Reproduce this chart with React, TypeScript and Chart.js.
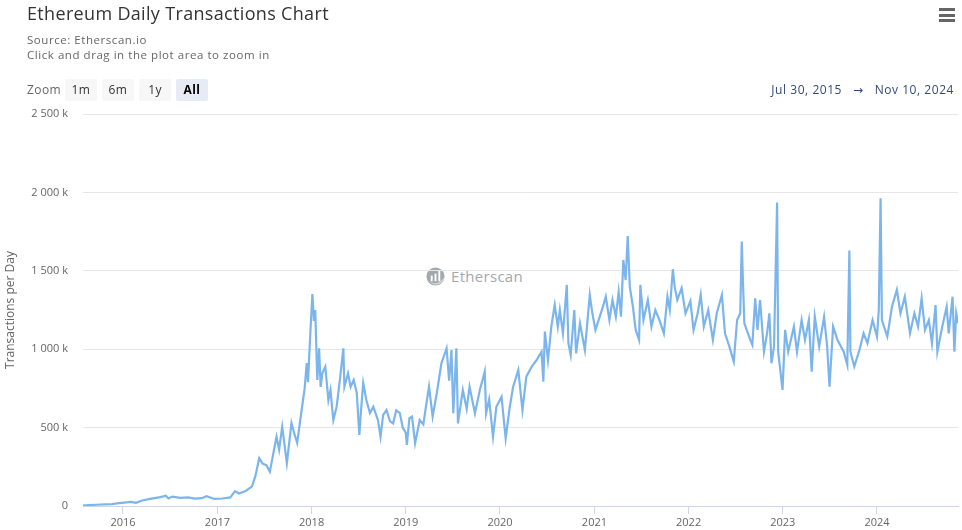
import React, { useEffect, useRef } from "react";
import { Chart, registerables } from "chart.js";

Chart.register(...registerables);

const TITLE = "Ethereum Daily Transactions Chart";
const SUBTITLE_1 = "Source: Etherscan.io";
const SUBTITLE_2 = "Click and drag in the plot area to zoom in";
const ZOOM_BUTTONS = ["1m", "6m", "1y", "All"];
const RANGE_FROM = "Jul 30, 2015";
const RANGE_TO = "Nov 10, 2024";
const Y_TITLE = "Transactions per Day";
const X_START = "2015-07-30";
const X_END = "2024-11-10";
const YEAR_TICKS = [2016, 2017, 2018, 2019, 2020, 2021, 2022, 2023, 2024];
const Y_MAX_K = 2500;
const Y_STEP_K = 500;

const dates: string[] = [
  "2015-07-30", "2015-08-20", "2015-09-20", "2015-10-20", "2015-11-20", "2015-12-15",
  "2016-01-05", "2016-02-01", "2016-02-20", "2016-03-15", "2016-04-15", "2016-05-25", "2016-06-15", "2016-06-25",
  "2016-07-10", "2016-08-10", "2016-09-10", "2016-10-05", "2016-11-01", "2016-11-20", "2016-12-20",
  "2017-01-20", "2017-02-20", "2017-03-10", "2017-03-25", "2017-04-20", "2017-05-15", "2017-05-28", "2017-06-12",
  "2017-06-25", "2017-07-10", "2017-07-23", "2017-08-05", "2017-08-18", "2017-08-28", "2017-09-09", "2017-09-27",
  "2017-10-15", "2017-10-28", "2017-11-06", "2017-11-25", "2017-12-05", "2017-12-13", "2017-12-18", "2017-12-27",
  "2018-01-04", "2018-01-10", "2018-01-15", "2018-01-23", "2018-01-30", "2018-02-05", "2018-02-12", "2018-02-23",
  "2018-03-07", "2018-03-15", "2018-03-26", "2018-04-08", "2018-04-22", "2018-05-04", "2018-05-08", "2018-05-22",
  "2018-06-01", "2018-06-13", "2018-06-25", "2018-07-05", "2018-07-12", "2018-07-20", "2018-08-01", "2018-08-15",
  "2018-08-28", "2018-09-15", "2018-09-25", "2018-10-05", "2018-10-18", "2018-11-01", "2018-11-13", "2018-11-25",
  "2018-12-09", "2018-12-20",
  "2019-01-01", "2019-01-05", "2019-01-15", "2019-01-25", "2019-02-06", "2019-02-24", "2019-03-10", "2019-03-20",
  "2019-04-01", "2019-04-15", "2019-05-01", "2019-05-19", "2019-06-08", "2019-06-18", "2019-06-27", "2019-07-04",
  "2019-07-16", "2019-07-22", "2019-08-10", "2019-08-25", "2019-09-05", "2019-09-26", "2019-10-15", "2019-11-03",
  "2019-11-08", "2019-11-20", "2019-12-05", "2019-12-18",
  "2020-01-07", "2020-01-23", "2020-02-08", "2020-02-21", "2020-03-12", "2020-03-28", "2020-04-12", "2020-05-03",
  "2020-05-22", "2020-06-10", "2020-06-17", "2020-06-23", "2020-07-05", "2020-07-18", "2020-07-31", "2020-08-12",
  "2020-08-20", "2020-09-01", "2020-09-16", "2020-09-22", "2020-10-01", "2020-10-15", "2020-10-22", "2020-11-06",
  "2020-11-25", "2020-12-14", "2020-12-24",
  "2021-01-05", "2021-02-03", "2021-02-14", "2021-02-28", "2021-03-12", "2021-03-25", "2021-04-05", "2021-04-14",
  "2021-04-23", "2021-05-02", "2021-05-10", "2021-05-18", "2021-05-30", "2021-06-10", "2021-06-23", "2021-06-28",
  "2021-07-10", "2021-07-27", "2021-08-10", "2021-08-25", "2021-09-10", "2021-09-27", "2021-10-11", "2021-10-20",
  "2021-11-01", "2021-11-08", "2021-11-18", "2021-12-05", "2021-12-20",
  "2022-01-08", "2022-01-20", "2022-02-05", "2022-02-17", "2022-03-01", "2022-03-18", "2022-04-05", "2022-04-20",
  "2022-05-10", "2022-05-22", "2022-06-08", "2022-06-25", "2022-07-08", "2022-07-20", "2022-07-26", "2022-07-30",
  "2022-08-05", "2022-08-28", "2022-09-05", "2022-09-16", "2022-09-25", "2022-10-05", "2022-10-20", "2022-11-01",
  "2022-11-10", "2022-11-18", "2022-11-28", "2022-12-10", "2022-12-14", "2022-12-31",
  "2023-01-10", "2023-01-22", "2023-02-13", "2023-02-25", "2023-03-15", "2023-03-28", "2023-04-12", "2023-04-23",
  "2023-05-05", "2023-05-22", "2023-06-10", "2023-06-22", "2023-07-01", "2023-07-15", "2023-08-01", "2023-08-25",
  "2023-09-08", "2023-09-16", "2023-09-20", "2023-10-05", "2023-10-25", "2023-11-10", "2023-11-25", "2023-12-15",
  "2024-01-01", "2024-01-08", "2024-01-15", "2024-01-20", "2024-02-10", "2024-02-28", "2024-03-18", "2024-04-01",
  "2024-04-18", "2024-05-08", "2024-05-25", "2024-06-08", "2024-06-22", "2024-07-05", "2024-07-20", "2024-08-01",
  "2024-08-15", "2024-08-22", "2024-09-10", "2024-09-27", "2024-10-05", "2024-10-20", "2024-10-27", "2024-11-03",
  "2024-11-10",
];

// Daily transactions, in thousands
const txK: number[] = [
  3, 5, 8, 10, 12, 18,
  22, 26, 20, 35, 45, 57, 66, 48,
  60, 52, 55, 47, 50, 62, 45,
  48, 55, 95, 80, 95, 125, 190, 305,
  270, 260, 219, 330, 442, 360, 506, 274,
  529, 450, 402, 633, 750, 912, 790, 1103,
  1352, 1180, 1250, 804, 1006, 760, 850, 889,
  676, 740, 548, 633, 825, 1006, 761, 846,
  760, 804, 719, 453, 620, 784, 676, 593,
  633, 548, 442, 580, 612, 540, 527, 610,
  593, 500,
  466, 389, 560, 570, 400, 548, 520, 633,
  761, 570, 719, 910, 1006, 800, 995, 591,
  1006, 527, 740, 620, 761, 591, 740, 857,
  591, 680, 442, 633,
  697, 432, 633, 761, 867, 612, 825, 889,
  931, 984, 793, 1112, 930, 1144, 1282, 1144,
  1250, 1101, 1410, 1038, 963, 1250, 974, 1165,
  995, 1346, 1229,
  1123, 1271, 1335, 1186, 1314, 1207, 1367, 1207,
  1569, 1441, 1722, 1399, 1271, 1123, 1059, 1410,
  1186, 1314, 1144, 1250, 1186, 1101, 1335, 1250,
  1510, 1399, 1314, 1389, 1229,
  1307, 1123, 1229, 1346, 1144, 1250, 1059, 1229,
  1346, 1101, 1016, 920, 1186, 1229, 1686, 1463,
  1165, 1059, 1027, 1325, 1123, 1314, 984, 1101,
  1229, 910, 1016, 1935, 984, 740,
  1123, 984, 1144, 984, 1186, 1059, 1186, 857,
  1207, 1016, 1207, 1016, 761, 1144, 1059, 984,
  899, 1630, 984, 889, 995, 1101, 1038, 1186,
  1080, 1250, 1963, 1186, 1080, 1271, 1378, 1229,
  1335, 1101, 1229, 1144, 1325, 1123, 1186, 1038,
  1282, 984, 1144, 1271, 1101, 1335, 984, 1229,
  1165,
];

const FONT = "'Open Sans', 'DejaVu Sans', sans-serif";

function formatK(v: number): string {
  if (v === 0) return "0";
  const s = String(Math.round(v)).replace(/\B(?=(\d{3})+(?!\d))/g, " ");
  return s + " k";
}

export default function App() {
  const canvasRef = useRef<HTMLCanvasElement | null>(null);

  useEffect(() => {
    const canvas = canvasRef.current;
    if (!canvas) return;
    const points = dates.map((d, i) => ({ x: Date.parse(d), y: txK[i] }));
    const chart = new Chart(canvas, {
      type: "line",
      data: {
        datasets: [
          {
            data: points,
            borderColor: "#7cb5ec",
            borderWidth: 2.2,
            pointRadius: 0,
            tension: 0,
            fill: false,
          },
        ],
      },
      options: {
        animation: false,
        responsive: false,
        maintainAspectRatio: false,
        parsing: false as any,
        layout: { padding: { left: 0, right: 4, top: 114, bottom: 0 } },
        plugins: {
          legend: { display: false },
          tooltip: { enabled: false },
          title: { display: false },
        },
        scales: {
          x: {
            type: "linear",
            min: Date.parse(X_START),
            max: Date.parse(X_END),
            afterBuildTicks: (scale: any) => {
              scale.ticks = YEAR_TICKS.map((y) => ({ value: Date.UTC(y, 0, 1) }));
            },
            afterFit: (scale: any) => {
              scale.height = 24;
            },
            ticks: {
              autoSkip: false,
              maxRotation: 0,
              padding: 2,
              color: "#666666",
              font: { family: FONT, size: 11 },
              callback: (v: any) => String(new Date(v).getUTCFullYear()),
            },
            grid: {
              display: true,
              drawOnChartArea: false,
              drawTicks: true,
              tickLength: 8,
              color: "#ccd6eb",
            },
            border: { display: true, color: "#ccd6eb", width: 1 },
          },
          y: {
            type: "linear",
            min: 0,
            max: Y_MAX_K,
            afterFit: (scale: any) => {
              scale.width = 83;
            },
            ticks: {
              stepSize: Y_STEP_K,
              padding: 15,
              color: "#666666",
              font: { family: FONT, size: 11 },
              callback: (v: any) => formatK(Number(v)),
            },
            grid: {
              color: "#e6e6e6",
              drawTicks: false,
              lineWidth: 1,
            },
            border: { display: false },
            title: {
              display: true,
              text: Y_TITLE,
              color: "#666666",
              font: { family: FONT, size: 12 },
              padding: { top: 3, bottom: 0 },
            },
          },
        },
      },
    });
    return () => chart.destroy();
  }, []);

  const btnLeft = [65, 102, 139, 176];

  return (
    <div
      style={{
        position: "absolute",
        left: 0,
        top: 0,
        width: 962,
        height: 530,
        background: "#ffffff",
        fontFamily: FONT,
        overflow: "hidden",
      }}
    >
      {/* watermark */}
      <div style={{ position: "absolute", left: 426, top: 267, display: "flex", alignItems: "center" }}>
        <svg width="19" height="19" viewBox="0 0 20 20">
          <circle cx="10" cy="10" r="9.5" fill="#a3a8ae" />
          <rect x="5" y="9" width="2" height="6" fill="#ffffff" />
          <rect x="9" y="7" width="2" height="8" fill="#ffffff" />
          <rect x="13" y="4" width="2" height="11" fill="#ffffff" />
          <path d="M1 13 Q10 22 19 11 L19 14 Q10 24 1 13 Z" fill="#d0d3d6" />
        </svg>
        <span style={{ marginLeft: 6, fontSize: 15, color: "#a3a8ae", lineHeight: "19px", letterSpacing: 0.3 }}>Etherscan</span>
      </div>

      <canvas
        ref={canvasRef}
        width={962}
        height={530}
        style={{ position: "absolute", left: 0, top: 0, width: 962, height: 530 }}
      />

      {/* title */}
      <div style={{ position: "absolute", left: 27, top: 1, fontSize: 18, color: "#333333", whiteSpace: "nowrap", lineHeight: "24px", letterSpacing: 0.33 }}>
        {TITLE}
      </div>
      <div style={{ position: "absolute", left: 27, top: 33, fontSize: 11.5, color: "#666666", whiteSpace: "nowrap", lineHeight: "14.5px", letterSpacing: 0.55 }}>
        <div>{SUBTITLE_1}</div>
        <div>{SUBTITLE_2}</div>
      </div>

      {/* hamburger */}
      {[8, 13.5, 19].map((t, i) => (
        <div key={i} style={{ position: "absolute", left: 939, top: t, width: 16, height: 3, background: "#666666" }} />
      ))}

      {/* zoom buttons */}
      <div style={{ position: "absolute", left: 27, top: 82, fontSize: 12, color: "#666666", lineHeight: "16px", letterSpacing: 0.4 }}>Zoom</div>
      {ZOOM_BUTTONS.map((b, i) => (
        <div
          key={b}
          style={{
            position: "absolute",
            left: btnLeft[i],
            top: 79,
            width: 32,
            height: 22,
            background: b === "All" ? "#e6ebf5" : "#f7f7f7",
            borderRadius: 2,
            fontSize: 12,
            fontWeight: b === "All" ? 700 : 400,
            color: b === "All" ? "#000000" : "#333333",
            textAlign: "center",
            lineHeight: "22px",
            letterSpacing: 0.4,
          }}
        >
          {b}
        </div>
      ))}

      {/* range */}
      <div
        style={{
          position: "absolute",
          right: 8,
          top: 82,
          fontSize: 12,
          color: "#334a78",
          whiteSpace: "pre",
          lineHeight: "16px",
          letterSpacing: 0.55,
        }}
      >
        {RANGE_FROM + "   \u2192   " + RANGE_TO}
      </div>
    </div>
  );
}
